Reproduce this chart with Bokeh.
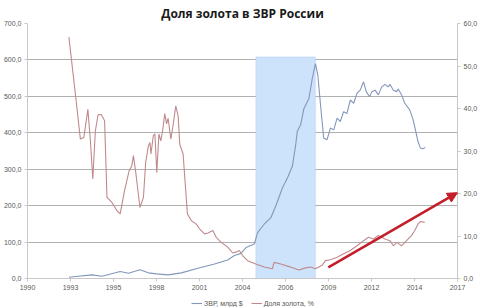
from bokeh.plotting import figure
from bokeh.layouts import column
from bokeh.models import (Range1d, LinearAxis, FixedTicker, Legend, LegendItem,
                          BoxAnnotation, Arrow, NormalHead, Title)
from bokeh.embed import file_html
from bokeh.resources import INLINE

# ---- data ----
title_text = "Доля золота в ЗВР России"
series_names = ["ЗВР, млрд $", "Доля золота, %"]

x_ticks = [1990.0, 1992.7, 1995.4, 1998.1, 2000.8, 2003.5, 2006.2, 2008.9, 2011.6, 2014.3, 2017.0]
x_tick_labels = ["1990", "1993", "1995", "1998", "2001", "2004", "2006", "2009", "2012", "2014", "2017"]
left_ticks = [0, 100, 200, 300, 400, 500, 600, 700]
right_ticks = [0, 10, 20, 30, 40, 50, 60]

reserves_years = [1992.60, 1993.01, 1994.05, 1994.68, 1995.82, 1996.34, 1997.06, 1997.59, 1998.10,
                  1998.83, 1999.66, 2000.70, 2001.74, 2002.57, 2002.99, 2003.41, 2003.72, 2004.24,
                  2004.45, 2004.86, 2005.28, 2005.59, 2006.01, 2006.32, 2006.63, 2006.84, 2006.94,
                  2007.15, 2007.36, 2007.67, 2007.88, 2008.08, 2008.23, 2008.39, 2008.60, 2008.81,
                  2009.02, 2009.23, 2009.44, 2009.64, 2009.85, 2010.06, 2010.27, 2010.48, 2010.69,
                  2010.89, 2011.10, 2011.27, 2011.48, 2011.63, 2011.83, 2012.03, 2012.24, 2012.45,
                  2012.65, 2012.76, 2012.97, 2013.18, 2013.28, 2013.49, 2013.69, 2014.00, 2014.21,
                  2014.38, 2014.52, 2014.67, 2014.83, 2014.98]
reserves_bn = [3.5, 5.5, 10, 6, 19, 14.5, 24, 15.5, 12.8,
               10, 15.5, 28, 40, 51, 63, 69, 85, 95,
               126, 149, 167, 199, 249, 276, 308, 367, 404,
               422, 467, 494, 549, 590, 558, 481, 385, 381,
               413, 408, 440, 431, 458, 453, 490, 481, 508,
               517, 540, 513, 499, 513, 517, 504, 526, 533,
               526, 533, 517, 513, 520, 504, 481, 463, 436,
               404, 376, 358, 356, 360]

gold_years = [1992.60, 1993.01, 1993.32, 1993.54, 1993.79, 1993.95, 1994.10, 1994.26, 1994.43,
              1994.63, 1994.84, 1994.99, 1995.30, 1995.61, 1995.82, 1996.09, 1996.38, 1996.55,
              1996.65, 1996.81, 1997.06, 1997.28, 1997.42, 1997.59, 1997.69, 1997.75, 1997.90,
              1998.00, 1998.12, 1998.25, 1998.37, 1998.48, 1998.62, 1998.73, 1998.83, 1999.00,
              1999.15, 1999.31, 1999.46, 1999.56, 1999.77, 2000.04, 2000.29, 2000.60, 2000.80,
              2001.12, 2001.33, 2001.64, 2001.85, 2002.16, 2002.57, 2002.89, 2003.09, 2003.30,
              2003.51, 2003.82, 2004.34, 2004.86, 2005.38, 2005.48, 2005.90, 2006.42, 2007.04,
              2007.46, 2007.77, 2008.08, 2008.50, 2008.71, 2009.02, 2009.44, 2009.85, 2010.27,
              2010.69, 2011.10, 2011.41, 2011.72, 2012.03, 2012.45, 2012.76, 2012.97, 2013.18,
              2013.49, 2013.80, 2014.11, 2014.32, 2014.52, 2014.67, 2014.94]
gold_share = [56.8, 43.3, 32.8, 33.2, 39.8, 32.4, 23.4, 34.7, 38.5,
              38.6, 37.1, 19.1, 17.9, 16.0, 15.2, 20.6, 25.3, 26.5,
              28.9, 24.6, 16.7, 19.1, 27.3, 31.2, 32.0, 29.3, 33.6,
              34.0, 24.9, 34.0, 32.4, 34.7, 38.8, 36.4, 37.7, 32.8,
              36.3, 40.6, 38.2, 31.6, 29.3, 15.2, 13.6, 12.8, 11.7,
              10.5, 10.7, 11.3, 9.7, 8.5, 7.4, 6.0, 6.2, 6.6,
              5.4, 4.2, 3.4, 2.7, 2.3, 3.8, 3.4, 2.8, 2.0,
              2.5, 2.7, 2.3, 3.1, 4.2, 4.4, 5.0, 5.8, 6.6,
              7.7, 8.9, 9.7, 9.3, 10.1, 9.3, 8.9, 7.7, 8.5,
              7.7, 8.9, 10.1, 11.3, 12.8, 13.4, 13.2]

highlight_period = [2004.34, 2008.08]
highlight_top = 608
arrow_from = [2008.89, 2.6]
arrow_to = [2017.0, 20.2]

# ---- styles ----
blue = "#8397ba"
red = "#c08a8c"
label_color = "#595959"
grid_color = "#b0b0b0"
axis_color = "#c8c8c8"
font = "Liberation Sans"

p = figure(width=480, height=292, output_backend="svg", toolbar_location=None,
           x_range=Range1d(1990, 2017), y_range=Range1d(0, 700),
           min_border_left=24, min_border_right=20, min_border_top=4, min_border_bottom=0)
p.extra_y_ranges = {"right": Range1d(0, 60)}

p.title = Title(text=title_text, align="center", text_font="Open Sans", text_font_size="12px",
                text_font_style="bold", text_color="#1a1a1a", standoff=4)
p.outline_line_color = None
p.background_fill_color = "white"
p.border_fill_color = "white"

# highlight box
box = BoxAnnotation(left=highlight_period[0], right=highlight_period[1], top=highlight_top,
                    bottom=-41, fill_color="#cde2fb", fill_alpha=1.0,
                    line_color="#afcbef", line_width=1.5, level="underlay")
p.add_layout(box)

r1 = p.line(reserves_years, reserves_bn, line_color=blue, line_width=1.1)
r2 = p.line(gold_years, gold_share, line_color=red, line_width=1.1, y_range_name="right")

# axes
def style_axis(ax):
    ax.axis_line_color = axis_color
    ax.major_tick_line_color = axis_color
    ax.major_tick_out = 3
    ax.major_tick_in = 0
    ax.minor_tick_line_color = None
    ax.major_label_text_font = font
    ax.major_label_text_font_size = "7px"
    ax.major_label_text_color = label_color
    ax.major_label_standoff = 3

p.xaxis.ticker = FixedTicker(ticks=x_ticks)
p.xaxis.major_label_overrides = {t: l for t, l in zip(x_ticks, x_tick_labels)}
p.yaxis.ticker = FixedTicker(ticks=left_ticks)
p.yaxis.major_label_overrides = {t: f"{t},0" for t in left_ticks}
style_axis(p.xaxis[0])
style_axis(p.yaxis[0])

ra = LinearAxis(y_range_name="right", ticker=FixedTicker(ticks=right_ticks))
ra.major_label_overrides = {t: f"{t},0" for t in right_ticks}
style_axis(ra)
p.add_layout(ra, "right")

p.xgrid.visible = False
p.ygrid.grid_line_color = grid_color
p.ygrid.grid_line_width = 1
p.ygrid.ticker = FixedTicker(ticks=left_ticks[1:])

# arrow
arr = Arrow(x_start=arrow_from[0], y_start=arrow_from[1], x_end=arrow_to[0], y_end=arrow_to[1],
            y_range_name="right", line_color="#c41e2a", line_width=2.5,
            end=NormalHead(size=10, fill_color="#c41e2a", line_color="#c41e2a"))
p.add_layout(arr)

# legend in a thin strip figure below the chart
lg = figure(width=480, height=15, output_backend="svg", toolbar_location=None,
            x_range=Range1d(0, 1), y_range=Range1d(0, 1),
            min_border_left=0, min_border_right=0, min_border_top=0, min_border_bottom=0)
lg.axis.visible = False
lg.grid.visible = False
lg.outline_line_color = None
l1 = lg.line(reserves_years, reserves_bn, line_color=blue, line_width=1.1)
l2 = lg.line(gold_years, gold_share, line_color=red, line_width=1.1)
legend = Legend(items=[LegendItem(label=series_names[0], renderers=[l1]),
                       LegendItem(label=series_names[1], renderers=[l2])],
                orientation="horizontal", location=(164, 0),
                label_text_font=font, label_text_font_size="7px", label_text_color=label_color,
                label_height=8, glyph_width=11, glyph_height=8, label_standoff=2, spacing=8,
                padding=2, margin=0, border_line_color=None, background_fill_alpha=0)
lg.add_layout(legend, "center")

layout = column(p, lg, spacing=0)
open("out.html", "w").write(file_html(layout, INLINE))
